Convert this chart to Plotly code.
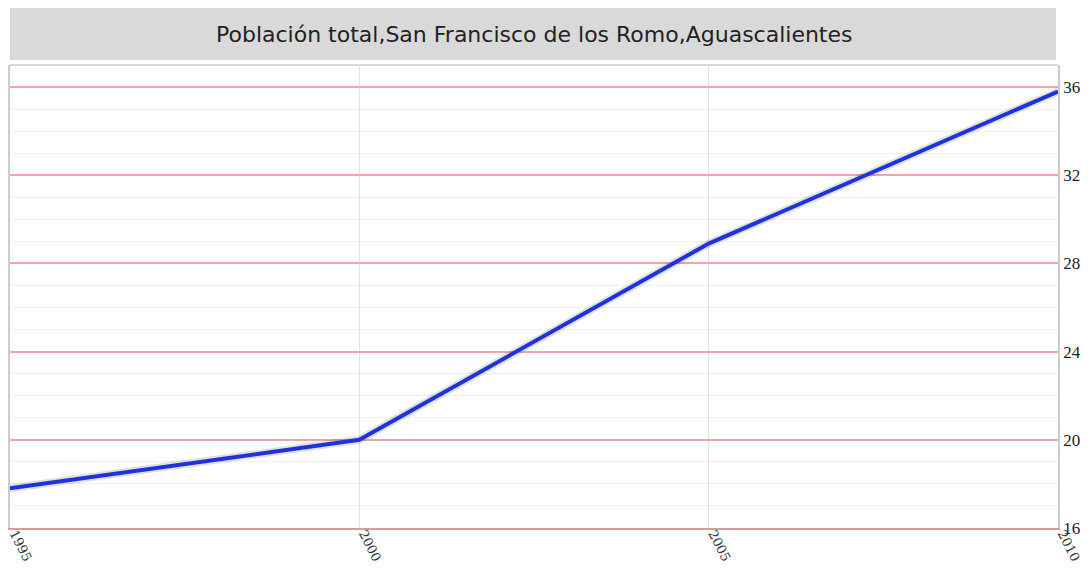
import plotly.graph_objects as go

years = [1995, 2000, 2005, 2010]
population_k = [17.8, 20.0, 28.9, 35.8]
title_text = "Población total,San Francisco de los Romo,Aguascalientes"
y_ticks = [16, 20, 24, 28, 32, 36]
x_ticks = [1995, 2000, 2005, 2010]

fig = go.Figure()
# soft shadow under the line
fig.add_trace(go.Scatter(x=years, y=population_k, mode="lines",
                         line=dict(color="rgba(0,0,0,0.12)", width=8),
                         hoverinfo="skip", showlegend=False))
fig.add_trace(go.Scatter(x=years, y=population_k, mode="lines",
                         line=dict(color="#1f33dd", width=4),
                         showlegend=False))

# page body has an 8px margin, so the figure is sized to fit inside the window
fig.update_layout(
    width=1074, height=557,
    margin=dict(l=2, r=24, t=57, b=37, autoexpand=False),
    paper_bgcolor="white", plot_bgcolor="white",
    xaxis=dict(range=[1995, 2010], tickvals=x_ticks, ticktext=[str(v) for v in x_ticks],
               tickangle=63, showgrid=True, gridcolor="#e2e2e2", gridwidth=1,
               showline=True, linecolor="#dd9999", linewidth=2, ticks="",
               automargin=False, ticklabelstandoff=-9, ticklabelshift=5,
               ticklabeloverflow="allow",
               tickfont=dict(family="DejaVu Serif", size=13, color="#333"),
               zeroline=False),
    yaxis=dict(range=[16, 37], side="right", tickvals=y_ticks,
               showgrid=True, gridcolor="#e6aaaa", gridwidth=1.5,
               minor=dict(dtick=1, tick0=16, showgrid=True, gridcolor="#f0f0f0", gridwidth=1),
               showline=True, mirror=True, linecolor="#cccccc", linewidth=1.5, ticks="",
               automargin=False,
               tickfont=dict(family="Liberation Serif", size=17, color="#222"),
               zeroline=False),
    shapes=[
        dict(type="rect", xref="paper", yref="paper", x0=0, x1=0.998, y0=1.011, y1=1.123,
             fillcolor="#d9d9d9", line=dict(width=0), layer="below"),
        dict(type="line", xref="paper", yref="paper", x0=0, x1=1, y0=1, y1=1,
             line=dict(color="#cccccc", width=1.5)),
    ],
    annotations=[
        dict(text=title_text, xref="paper", yref="paper", x=0.5, y=1.065,
             xanchor="center", yanchor="middle", showarrow=False,
             font=dict(family="DejaVu Sans", size=22, color="#222")),
    ],
)

fig.write_html("out.html")
